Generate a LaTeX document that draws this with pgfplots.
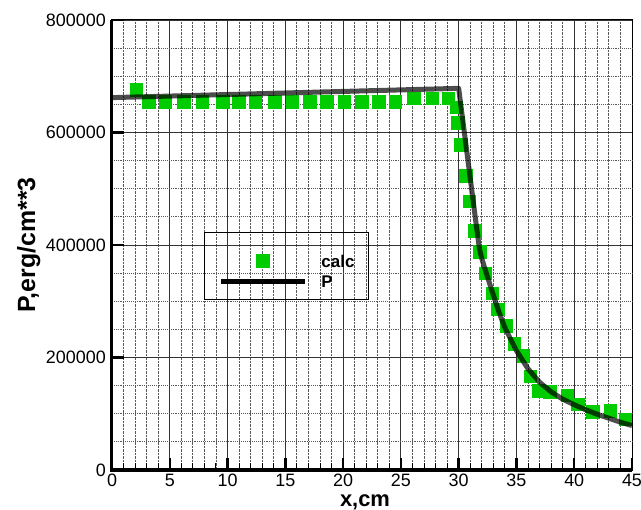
\documentclass[border=0pt]{standalone}
\usepackage{fontspec}
\setmainfont{Liberation Sans}
\usepackage{pgfplots}
\pgfplotsset{compat=1.18}
\definecolor{calcgreen}{RGB}{0,204,0}

\begin{document}
\begin{tikzpicture}
\useasboundingbox (-112bp,-40bp) rectangle (529bp,470bp);
\begin{axis}[
  at={(0,0)}, anchor=south west,
  width=520bp, height=450bp, scale only axis,
  xmin=0, xmax=45, ymin=0, ymax=800000,
  xtick={0,5,...,45},
  minor x tick num=4,
  ytick={0,200000,400000,600000,800000},
  yticklabels={0,200000,400000,600000,800000},
  extra y ticks={50000,100000,150000,250000,300000,350000,450000,500000,550000,650000,700000,750000},
  extra y tick labels={},
  extra y tick style={major tick length=0pt,
    major grid style={densely dotted, black!65, line width=0.9bp}},
  grid=both,
  major grid style={black!80, line width=0.9bp},
  minor grid style={densely dotted, black!65, line width=0.9bp},
  tick pos=left,
  tick align=inside,
  major tick length=12bp,
  minor tick length=6.5bp,
  major tick style={black, line width=2.5bp},
  minor tick style={black, line width=1bp},
  axis line style={black, line width=1bp},
  scaled y ticks=false,
  /pgf/number format/assume math mode=true,
  tick label style={font=\fontsize{18}{18}\selectfont},
  xticklabel style={inner sep=0pt, anchor=north, yshift=-4bp},
  yticklabel style={inner sep=0pt, anchor=east, xshift=-6bp},
  xlabel={x,cm},
  ylabel={P,erg/cm**3},
  label style={font=\bfseries\fontsize{22}{22}\selectfont},
  xlabel style={at={(axis description cs:0.4865,-0.082)}, anchor=base,
    inner sep=0pt},
  ylabel style={at={(axis description cs:-0.148,0.5)}, anchor=base,
    font=\bfseries\fontsize{25}{25}\selectfont},
  clip mode=individual,
  legend cell align=left,
  legend style={at={(axis description cs:0.177,0.5296)}, anchor=north west,
    draw=black, line width=0.9bp, fill=none,
    inner xsep=14bp, inner ysep=12.3bp, row sep=8.3bp, column sep=14bp,
    font=\bfseries\fontsize{17}{17}\selectfont,
    nodes={inner sep=0pt, text depth=0pt}},
]
% calc
\addplot[calcgreen, only marks, mark=square*, mark size=6.3bp,
  mark options={draw=none, fill=calcgreen},
  legend image code/.code={
    \path (0bp,-6.3bp) (84bp,16bp);
    \path[mark=square*, mark size=6.3bp, mark options={draw=none, fill=calcgreen}]
      plot[only marks] coordinates {(42bp,0bp)};
  }] coordinates {
(2.1,676000) (3.2,655000) (4.6,655000) (6.2,655000) (7.8,655000)
(9.6,655000) (10.95,655000) (12.4,655000) (14.1,655000) (15.6,655000)
(17.1,655000) (18.6,655000) (20.1,655000) (21.6,655000) (23.1,655000)
(24.5,655000) (26.1,661000) (27.7,661000) (29.1,661000) (29.8,645000)
(29.9,617000) (30.2,578000) (30.6,523000) (30.9,478000) (31.4,425000)
(31.8,388000) (32.3,350000) (32.9,314000) (33.4,286000) (34.1,256000)
(34.8,225000) (35.6,203000) (36.2,167000) (36.9,141000) (37.9,139000)
(39.4,133000) (40.3,117000) (41.6,104000) (43.1,105000) (44.4,90000)
};
\addlegendentry{calc}
% P
\addplot[black, opacity=0.7, line width=5bp, line join=round, mark=none,
  legend image code/.code={
    \draw[black, opacity=1, line width=5bp] (0bp,0bp) -- (84bp,0bp);
  }] coordinates {
(0,662000) (30,678500) (31,519000) (31.5,439000) (31.8,393000)
(32,376000) (32.5,343000) (33,311000) (33.5,280000) (34,253000)
(35,212000) (36,180000) (37,156000) (38,139000) (39,126000)
(40,116000) (41,107000) (42,99000) (43,92000) (44,85000) (45,79000)
};
\addlegendentry{P}
\draw[black, line width=3bp] (rel axis cs:0,1) -- (rel axis cs:0,0) -- (rel axis cs:1,0);
\end{axis}
\end{tikzpicture}
\end{document}
